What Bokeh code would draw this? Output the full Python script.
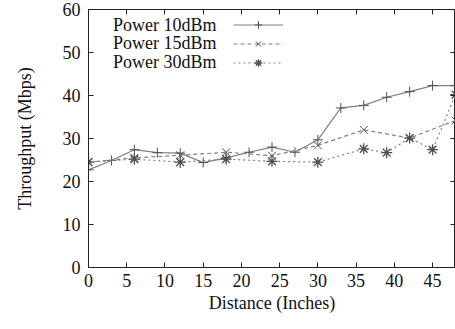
from bokeh.plotting import figure
from bokeh.models import Range1d, LinearAxis, Legend, LegendItem, Label, FixedTicker
from bokeh.embed import file_html
from bokeh.resources import INLINE

# data
x_10 = [0, 3, 6, 9, 12, 15, 18, 21, 24, 27, 30, 33, 36, 39, 42, 45, 48]
y_10 = [22.7, 24.9, 27.4, 26.7, 26.6, 24.4, 25.5, 26.8, 28.0, 26.8, 29.7, 37.1, 37.7, 39.6, 40.9, 42.3, 42.3]
x_15 = [0, 6, 12, 18, 24, 30, 36, 42, 48]
y_15 = [24.5, 25.5, 26.1, 26.8, 26.0, 28.4, 32.0, 30.1, 34.2]
x_30 = [0, 6, 12, 18, 24, 30, 36, 39, 42, 45, 48]
y_30 = [24.5, 25.2, 24.5, 25.2, 24.7, 24.5, 27.6, 26.7, 30.1, 27.4, 40.2]
labels = ["Power 10dBm", "Power 15dBm", "Power 30dBm"]
x_ticks = [0, 5, 10, 15, 20, 25, 30, 35, 40, 45]
y_ticks = [0, 10, 20, 30, 40, 50, 60]

FONT = "Liberation Serif"
LC = "#808080"
MC = "#505050"

p = figure(width=455, height=329, output_backend="svg", toolbar_location=None,
           x_range=Range1d(0, 48), y_range=Range1d(0, 60),
           min_border_left=88, min_border_right=0, min_border_top=9, min_border_bottom=62)
p.outline_line_color = "#222222"
p.outline_line_width = 1
p.xgrid.visible = False
p.ygrid.visible = False
p.background_fill_color = "white"

r1 = p.line(x_10, y_10, line_color=LC, line_width=1.2)
m1 = p.scatter(x_10, y_10, marker="cross", size=10, line_color=MC, line_width=1)
r2 = p.line(x_15, y_15, line_color=LC, line_width=1.2, line_dash="4 3")
m2 = p.scatter(x_15, y_15, marker="x", size=11, line_color=MC, line_width=1)
r3 = p.line(x_30, y_30, line_color=LC, line_width=1.2, line_dash="2 3")
m3 = p.scatter(x_30, y_30, marker="asterisk", size=11, line_color=MC, line_width=1.3)

def style(ax, show):
    ax.major_tick_in = 5
    ax.major_tick_out = 0
    ax.minor_tick_line_color = None
    ax.axis_line_color = "#222222"
    ax.major_tick_line_color = "#222222"
    ax.major_label_text_font = FONT
    if show:
        ax.major_label_text_color = "#111111"
        ax.major_label_text_font_size = "18px"
    else:
        ax.major_label_text_color = None
        ax.major_label_text_font_size = "1px"
        ax.major_label_standoff = 0

p.xaxis.ticker = FixedTicker(ticks=x_ticks)
p.yaxis.ticker = FixedTicker(ticks=y_ticks)
style(p.xaxis[0], True)
style(p.yaxis[0], True)
p.xaxis.major_label_standoff = 6
p.yaxis.major_label_standoff = 8
p.xaxis.axis_label = "Distance (Inches)"
p.yaxis.axis_label = "Throughput (Mbps)"
for ax in (p.xaxis[0], p.yaxis[0]):
    ax.axis_label_text_font = FONT
    ax.axis_label_text_font_style = "normal"
    ax.axis_label_text_font_size = "18px"
    ax.axis_label_text_color = "#111111"
p.xaxis.axis_label_standoff = 3
p.yaxis.axis_label_standoff = 25

top = LinearAxis(ticker=FixedTicker(ticks=x_ticks))
style(top, False)
p.add_layout(top, "above")
right = LinearAxis(ticker=FixedTicker(ticks=y_ticks))
style(right, False)
p.add_layout(right, "right")

legend = Legend(items=[LegendItem(label=" ", renderers=[r1, m1]),
                       LegendItem(label=" ", renderers=[r2, m2]),
                       LegendItem(label=" ", renderers=[r3, m3])],
                location=(145, 195), padding=0, margin=0, spacing=0,
                glyph_width=50, glyph_height=19, label_height=19,
                label_text_font_size="1px", label_text_color=None,
                border_line_color=None, background_fill_alpha=0)
p.add_layout(legend)

ly = [56.5, 52.1, 47.7]
for lab, yy in zip(labels, ly):
    p.add_layout(Label(x=3.2, y=yy, text=lab, text_font=FONT, text_font_size="18px",
                       text_baseline="middle", text_color="#111111"))

open("out.html", "w").write(file_html(p, INLINE))
